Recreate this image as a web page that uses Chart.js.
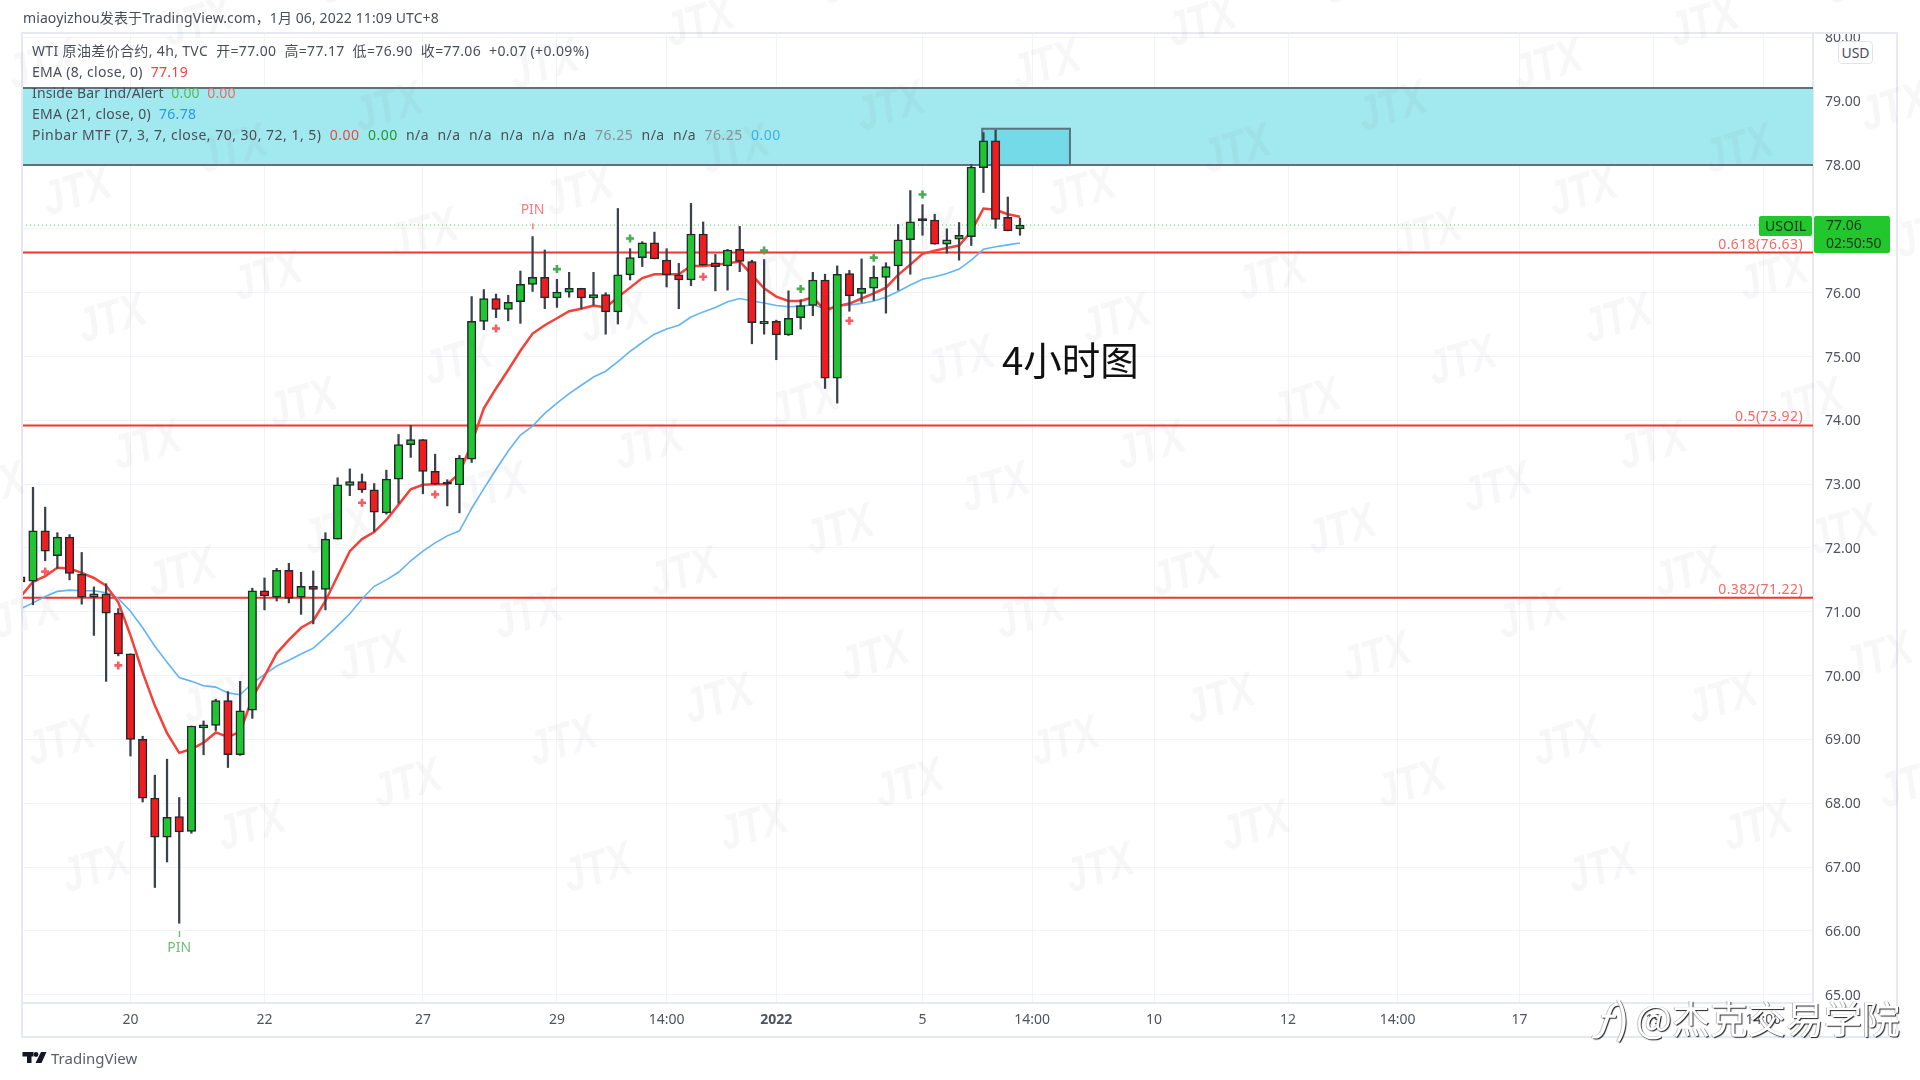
<!DOCTYPE html>
<html>
<head>
<meta charset="utf-8">
<title>USOIL 4h</title>
<script src="https://cdn.jsdelivr.net/npm/chart.js@4/dist/chart.umd.min.js"></script>
<style>
    html, body { margin: 0; padding: 0; background: #fff; }
    body { width: 1920px; height: 1080px; position: relative; overflow: hidden; font-family: "Noto Sans", "Noto Sans CJK SC", sans-serif; color: #4a4e59; }
    canvas { display: block; position: absolute; left: 0; top: 0; }
    .txt { position: absolute; white-space: pre; font-size: 14px; line-height: 20px; }
    .red { color: #f4433c; }
    .green { color: #1f9a2b; }
    .soft-green { color: #5cb85c; }
    .soft-red { color: #f26a6a; }
    .blue { color: #2a96f0; }
    .sky { color: #35b4e8; }
    .gray { color: #8b8f96; }
    .badge { position: absolute; background: #22c72e; color: #16331a; font-size: 14px; line-height: 18px; border-radius: 2px; }
    .stamp { color: #fff; text-shadow: 1px 1px 1px rgba(0,0,0,.85), -1px 0 0 rgba(0,0,0,.25); font-family: 'Noto Sans CJK SC', sans-serif; }
</style>
</head>
<body>
<canvas id="myChart" width="1920" height="1080"></canvas>

<div class="txt" style="left:23px;top:8px;letter-spacing:.1px;">miaoyizhou发表于TradingView.com，1月 06, 2022 11:09 UTC+8</div>
<div class="txt" style="left:32px;top:41px;letter-spacing:.35px;">WTI 原油差价合约, 4h, TVC  开=77.00  高=77.17  低=76.90  收=77.06  +0.07 (+0.09%)</div>
<div class="txt" style="left:32px;top:62px;letter-spacing:.3px;">EMA (8, close, 0)  <span class="red">77.19</span></div>
<div class="txt" style="left:32px;top:83px;letter-spacing:.15px;">Inside Bar Ind/Alert  <span class="soft-green">0.00</span>  <span class="soft-red">0.00</span></div>
<div class="txt" style="left:32px;top:104px;letter-spacing:.3px;">EMA (21, close, 0)  <span class="blue">76.78</span></div>
<div class="txt" style="left:32px;top:125px;letter-spacing:.5px;">Pinbar MTF (7, 3, 7, close, 70, 30, 72, 1, 5)  <span class="red">0.00</span>  <span class="green">0.00</span>  n/a  n/a  n/a  n/a  n/a  n/a  <span class="gray">76.25</span>  n/a  n/a  <span class="gray">76.25</span>  <span class="sky">0.00</span></div>

<div class="txt" style="left:1002px;top:330px;font-size:38.5px;line-height:56px;color:#111;font-family:'Noto Sans CJK SC',sans-serif;">4小时图</div>

<div class="txt" style="left:1838px;top:41px;width:33px;height:21px;line-height:21px;text-align:center;background:#fff;border:1px solid #e0e3eb;border-radius:4px;">USD</div>

<div class="badge" style="left:1759px;top:216px;width:53px;height:20px;line-height:20px;text-align:center;">USOIL</div>
<div class="badge" style="left:1814px;top:216px;width:76px;height:37px;padding-top:0;">
    <div style="padding-left:12px;">77.06</div>
    <div style="padding-left:12px;">02:50:50</div>
</div>

<div class="txt" style="left:51px;top:1048px;font-size:15px;color:#5a5e69;">TradingView</div>

<div class="txt stamp" style="left:1592px;top:988px;font-size:42px;line-height:56px;"><i>ƒ</i>)</div>
<div class="txt stamp" style="left:1636px;top:990px;font-size:38px;line-height:54px;">@杰克交易学院</div>

<script>
'use strict';

// 4h candles, one value per bar
let candleOpen = [71.55, 71.48, 72.27, 71.88, 72.17, 71.59, 71.23, 71.28, 70.98, 70.34, 69.00, 68.08, 67.47, 67.79, 67.56, 69.18, 69.22, 69.61, 68.76, 69.46,
    71.33, 71.23, 71.65, 71.23, 71.40, 71.35, 72.14, 72.98, 73.04, 72.91, 72.55, 73.08, 73.62, 73.70, 73.20, 73.01, 72.99, 73.39, 75.55, 75.91,
    75.74, 75.86, 76.13, 76.24, 75.92, 76.01, 76.07, 75.92, 75.97, 75.70, 76.28, 76.55, 76.78, 76.51, 76.28, 76.20, 76.92, 76.47, 76.42, 76.68,
    76.49, 75.51, 75.55, 75.34, 75.61, 75.80, 76.20, 74.66, 76.30, 75.99, 76.07, 76.24, 76.42, 76.83, 77.13, 77.14, 76.76, 76.84, 76.88, 77.96,
    78.38, 77.18, 77.00];
let candleClose = [71.47, 72.27, 71.95, 72.17, 71.60, 71.23, 71.28, 70.98, 70.34, 69.00, 68.08, 67.47, 67.78, 67.55, 69.21, 69.23, 69.61, 68.76, 69.45, 71.33,
    71.25, 71.65, 71.21, 71.40, 71.35, 72.14, 72.99, 73.04, 72.91, 72.56, 73.08, 73.62, 73.70, 73.20, 73.00, 73.00, 73.41, 75.55, 75.91, 75.74,
    75.85, 76.13, 76.24, 75.92, 76.01, 76.07, 75.92, 75.97, 75.70, 76.28, 76.55, 76.78, 76.53, 76.28, 76.20, 76.92, 76.43, 76.41, 76.67, 76.49,
    75.53, 75.55, 75.34, 75.60, 75.80, 76.20, 74.66, 76.29, 75.95, 76.07, 76.24, 76.41, 76.83, 77.11, 77.15, 76.76, 76.83, 76.90, 77.97, 78.38,
    77.15, 76.97, 77.06];
let candleHigh = [71.55, 72.95, 72.64, 72.24, 72.21, 71.93, 71.39, 71.44, 71.05, 70.34, 69.05, 68.44, 68.69, 68.09, 69.21, 69.29, 69.63, 69.75, 69.91, 71.37,
    71.53, 71.68, 71.76, 71.62, 71.64, 72.24, 73.10, 73.24, 73.16, 73.01, 73.22, 73.78, 73.92, 73.70, 73.47, 73.07, 73.45, 75.94, 76.05, 75.98,
    75.96, 76.34, 76.88, 76.67, 76.21, 76.32, 76.07, 76.32, 76.00, 77.32, 76.69, 76.80, 76.95, 76.69, 76.46, 77.40, 77.11, 76.60, 76.68, 77.04,
    76.51, 76.52, 75.57, 76.03, 75.89, 76.32, 76.29, 76.42, 76.35, 76.53, 76.42, 76.47, 77.07, 77.60, 77.38, 77.23, 77.00, 77.10, 78.01, 78.51,
    78.55, 77.50, 77.17];
let candleLow = [71.47, 71.11, 71.80, 71.68, 71.50, 71.12, 70.63, 69.91, 70.31, 68.74, 68.02, 66.68, 67.08, 66.12, 67.53, 68.76, 69.14, 68.56, 68.75, 69.33,
    71.03, 71.17, 71.14, 70.96, 70.81, 71.03, 72.14, 72.82, 72.87, 72.26, 72.53, 72.70, 73.42, 72.85, 72.99, 72.66, 72.55, 73.34, 75.42, 75.61,
    75.56, 75.52, 76.02, 75.75, 75.77, 75.93, 75.75, 75.81, 75.35, 75.51, 76.20, 76.41, 76.53, 76.09, 75.75, 76.11, 76.43, 76.03, 76.04, 76.33,
    75.20, 75.35, 74.95, 75.33, 75.43, 75.64, 74.50, 74.27, 75.71, 75.85, 75.88, 75.68, 76.04, 76.29, 76.90, 76.76, 76.62, 76.51, 76.74, 77.57,
    77.01, 76.97, 76.90];

let ema8 = [71.24, 71.47, 71.56, 71.69, 71.68, 71.61, 71.53, 71.41, 71.15, 70.63, 70.05, 69.53, 69.10, 68.79, 68.85, 68.95, 69.11, 69.04, 69.12, 69.65,
    69.99, 70.35, 70.56, 70.75, 70.86, 71.17, 71.56, 71.95, 72.14, 72.25, 72.44, 72.68, 72.92, 72.99, 73.00, 73.00, 73.17, 73.64, 74.19, 74.50,
    74.79, 75.09, 75.36, 75.49, 75.60, 75.71, 75.75, 75.80, 75.77, 75.93, 76.08, 76.23, 76.29, 76.29, 76.29, 76.42, 76.42, 76.44, 76.46, 76.49,
    76.28, 76.07, 75.94, 75.87, 75.87, 75.93, 75.72, 75.79, 75.83, 75.91, 75.99, 76.08, 76.28, 76.44, 76.61, 76.66, 76.70, 76.74, 76.96, 77.32,
    77.30, 77.23, 77.19];
let ema21 = [71.05, 71.14, 71.24, 71.32, 71.34, 71.33, 71.33, 71.30, 71.21, 71.01, 70.75, 70.46, 70.21, 69.97, 69.91, 69.84, 69.82, 69.73, 69.70, 69.88,
    70.02, 70.15, 70.24, 70.34, 70.43, 70.60, 70.78, 70.97, 71.20, 71.40, 71.50, 71.62, 71.80, 71.95, 72.08, 72.19, 72.27, 72.62, 72.93, 73.23,
    73.52, 73.77, 73.91, 74.11, 74.27, 74.42, 74.55, 74.68, 74.77, 74.92, 75.08, 75.22, 75.35, 75.43, 75.49, 75.62, 75.70, 75.77, 75.86, 75.91,
    75.87, 75.84, 75.80, 75.78, 75.79, 75.81, 75.75, 75.79, 75.81, 75.83, 75.87, 75.93, 76.02, 76.12, 76.21, 76.25, 76.30, 76.37, 76.51, 76.68,
    76.72, 76.75, 76.78];

// plus markers from the inside bar indicator
let redPlusBars = [2, 8, 28, 34, 39, 56, 68];
let redPlusPrices = [71.63, 70.16, 72.71, 72.84, 75.44, 76.25, 75.56];
let greenPlusBars = [44, 50, 61, 64, 70, 74];
let greenPlusPrices = [76.37, 76.85, 76.66, 76.06, 76.55, 77.54];

// fibonacci levels, zones and last price
let fibLevels = [76.63, 73.92, 71.22];
let fibNames = ['0.618(76.63)', '0.5(73.92)', '0.382(71.22)'];
let zonePrices = [78.00, 79.21];
let boxPrices = [78.00, 78.57];
let boxBars = [78.9, 86.1];
let lastPrice = 77.06;

let pinBars = [42, 13];
let pinPrices = [77.29, 65.73];
let pinArrowPrices = [77.04, 65.95];
let pinColors = ['#f77c80', '#6cbf73'];

let xTickBars = [9, 20, 33, 44, 53, 62, 74, 83, 93, 104, 113, 123, 134, 143];
let xTickLabels = ['20', '22', '27', '29', '14:00', '2022', '5', '14:00', '10', '12', '14:00', '17', '19', '14:00'];
let yTickValues = [65, 66, 67, 68, 69, 70, 71, 72, 73, 74, 75, 76, 77, 78, 79, 80];

let xMin = 0.098;
let xMax = 147.08;
let yMin = 64.87;
let yMax = 80.07;

let gridColor = '#f1f3f9';
let frameColor = '#e6e9f1';
let tickColor = '#50535e';

function toPoints(bars, values) {
    let points = [];
    for (let i = 0; i < bars.length; i++) {
        points.push({ x: bars[i], y: values[i] });
    }
    return points;
}

let barIndex = candleOpen.map(function (v, i) { return i; });
let wickData = [];
let bodyData = [];
let bodyColors = [];
for (let i = 0; i < barIndex.length; i++) {
    wickData.push({ x: i, y: [candleLow[i], candleHigh[i]] });
    bodyData.push({ x: i, y: [candleOpen[i], candleClose[i]] });
    let diff = candleClose[i] - candleOpen[i];
    if (Math.abs(diff) < 0.03) {
        bodyColors.push('#14171c');
    } else if (diff > 0) {
        bodyColors.push('#1fc632');
    } else {
        bodyColors.push('#ef1d1f');
    }
}

let datasets = [];
for (let i = 0; i < fibLevels.length; i++) {
    datasets.push({
        type: 'line',
        data: toPoints([xMin, xMax], [fibLevels[i], fibLevels[i]]),
        borderColor: '#f2352e',
        borderWidth: 2,
        pointRadius: 0,
        order: 6
    });
}
datasets.push({
    type: 'line',
    data: toPoints([xMin, xMax], [lastPrice, lastPrice]),
    borderColor: '#43d350',
    borderWidth: 1,
    borderDash: [1, 3],
    pointRadius: 0,
    order: 5
});
datasets.push({
    type: 'line',
    data: toPoints(barIndex, ema21),
    borderColor: '#62b4f7',
    borderWidth: 1.6,
    pointRadius: 0,
    order: 4
});
datasets.push({
    type: 'line',
    data: toPoints(barIndex, ema8),
    borderColor: '#f4413a',
    borderWidth: 2.5,
    pointRadius: 0,
    order: 3
});
datasets.push({
    type: 'bar',
    data: wickData,
    backgroundColor: '#3c424b',
    borderWidth: 0,
    barThickness: 1.6,
    grouped: false,
    order: 2
});
datasets.push({
    type: 'bar',
    data: bodyData,
    backgroundColor: bodyColors,
    borderColor: '#23282e',
    borderWidth: 1.5,
    borderSkipped: false,
    barThickness: 8.5,
    minBarLength: 2,
    grouped: false,
    order: 1
});
datasets.push({
    type: 'line',
    data: toPoints(redPlusBars, redPlusPrices),
    showLine: false,
    pointStyle: 'cross',
    pointRadius: 4,
    pointBorderWidth: 2.6,
    pointBorderColor: '#fb5b62',
    order: 0
});
datasets.push({
    type: 'line',
    data: toPoints(greenPlusBars, greenPlusPrices),
    showLine: false,
    pointStyle: 'cross',
    pointRadius: 4,
    pointBorderWidth: 2.6,
    pointBorderColor: '#45ad4f',
    order: 0
});

// cyan resistance zone and the darker box inside it
let zonePlugin = {
    id: 'zones',
    beforeDatasetsDraw: function (chart) {
        let ctx = chart.ctx;
        let area = chart.chartArea;
        let x = chart.scales.x;
        let y = chart.scales.y;
        let zoneTop = y.getPixelForValue(zonePrices[1]);
        let zoneBottom = y.getPixelForValue(zonePrices[0]);
        ctx.save();
        ctx.fillStyle = '#a2e8ef';
        ctx.fillRect(area.left, zoneTop, area.right - area.left, zoneBottom - zoneTop);
        ctx.strokeStyle = '#5f7279';
        ctx.lineWidth = 2;
        ctx.beginPath();
        ctx.moveTo(area.left, zoneTop);
        ctx.lineTo(area.right, zoneTop);
        ctx.moveTo(area.left, zoneBottom);
        ctx.lineTo(area.right, zoneBottom);
        ctx.stroke();
        let boxLeft = x.getPixelForValue(boxBars[0]);
        let boxRight = x.getPixelForValue(boxBars[1]);
        let boxTop = y.getPixelForValue(boxPrices[1]);
        ctx.fillStyle = '#74dae7';
        ctx.fillRect(boxLeft, boxTop, boxRight - boxLeft, zoneBottom - boxTop);
        ctx.strokeStyle = '#5b727b';
        ctx.strokeRect(boxLeft, boxTop, boxRight - boxLeft, zoneBottom - boxTop);
        ctx.restore();
    }
};

// fib names, PIN labels, outer frame, logo and the JTX watermark
let overlayPlugin = {
    id: 'overlay',
    afterDraw: function (chart) {
        let ctx = chart.ctx;
        let x = chart.scales.x;
        let y = chart.scales.y;
        ctx.save();

        ctx.font = '14px "Noto Sans"';
        ctx.letterSpacing = '0.4px';
        ctx.fillStyle = '#f46a66';
        ctx.textAlign = 'right';
        ctx.textBaseline = 'bottom';
        for (let i = 0; i < fibLevels.length; i++) {
            ctx.fillText(fibNames[i], 1803, y.getPixelForValue(fibLevels[i]) - 1);
        }
        ctx.letterSpacing = '0px';

        ctx.textAlign = 'center';
        ctx.textBaseline = 'middle';
        for (let i = 0; i < pinBars.length; i++) {
            let px = x.getPixelForValue(pinBars[i]);
            ctx.fillStyle = pinColors[i];
            ctx.font = '14px "Noto Sans"';
            ctx.fillText('PIN', px, y.getPixelForValue(pinPrices[i]));
            ctx.fillRect(px - 0.5, y.getPixelForValue(pinArrowPrices[i]) - 3, 1.5, 6);
        }

        ctx.strokeStyle = frameColor;
        ctx.lineWidth = 2;
        ctx.strokeRect(22, 33, 1875, 1004);

        // TradingView mark
        ctx.fillStyle = '#131722';
        ctx.fillRect(22.5, 1052, 11, 4.5);
        ctx.fillRect(27, 1052, 4.5, 11);
        ctx.beginPath();
        ctx.arc(36, 1054.5, 2.4, 0, Math.PI * 2);
        ctx.fill();
        ctx.beginPath();
        ctx.moveTo(41, 1052);
        ctx.lineTo(46.5, 1052);
        ctx.lineTo(41.5, 1063);
        ctx.lineTo(35.5, 1063);
        ctx.closePath();
        ctx.fill();

        ctx.font = 'italic bold 46px "Liberation Sans"';
        ctx.fillStyle = 'rgba(90, 90, 90, 0.05)';
        ctx.textAlign = 'center';
        for (let n = -10; n < 26; n++) {
            for (let m = -6; m < 12; m++) {
                let wx = 147 + m * 502 + n * 155.7;
                let wy = 447 - n * 42.3;
                if (wx < -60 || wx > 1980 || wy < -40 || wy > 1120) {
                    continue;
                }
                ctx.save();
                ctx.translate(wx, wy);
                ctx.rotate(-17 * Math.PI / 180);
                ctx.scale(0.82, 1.05);
                ctx.fillText('JTX', 0, 0);
                ctx.restore();
            }
        }
        ctx.restore();
    }
};

let ctx = document.getElementById('myChart').getContext('2d');
let myChart = new Chart(ctx, {
    type: 'bar',
    data: { datasets: datasets },
    plugins: [zonePlugin, overlayPlugin],
    options: {
        responsive: false,
        animation: false,
        layout: { padding: { left: 22, top: 33, right: 23, bottom: 43 } },
        plugins: {
            legend: { display: false },
            title: { display: false },
            tooltip: { enabled: false }
        },
        scales: {
            x: {
                type: 'linear',
                offset: false,
                min: xMin,
                max: xMax,
                grid: { color: gridColor, offset: false, drawTicks: false },
                border: { color: frameColor, width: 2 },
                afterBuildTicks: function (axis) {
                    axis.ticks = xTickBars.map(function (v) { return { value: v }; });
                },
                afterFit: function (axis) { axis.height = 34; },
                ticks: {
                    autoSkip: false,
                    maxRotation: 0,
                    padding: 9,
                    color: tickColor,
                    font: function (c) {
                        let isYear = c.tick && c.tick.label === '2022';
                        return { family: '"Noto Sans"', size: 14, weight: isYear ? 'bold' : 'normal' };
                    },
                    callback: function (value) {
                        return xTickLabels[xTickBars.indexOf(value)];
                    }
                }
            },
            y: {
                position: 'right',
                min: yMin,
                max: yMax,
                grid: { color: gridColor, drawTicks: false },
                border: { color: frameColor, width: 2 },
                afterBuildTicks: function (axis) {
                    axis.ticks = yTickValues.map(function (v) { return { value: v }; });
                },
                afterFit: function (axis) { axis.width = 84; },
                ticks: {
                    autoSkip: false,
                    padding: 12,
                    labelOffset: 1,
                    color: tickColor,
                    font: { family: '"Noto Sans"', size: 14 },
                    callback: function (value) {
                        return value.toFixed(2);
                    }
                }
            }
        }
    }
});
</script>
</body>
</html>
